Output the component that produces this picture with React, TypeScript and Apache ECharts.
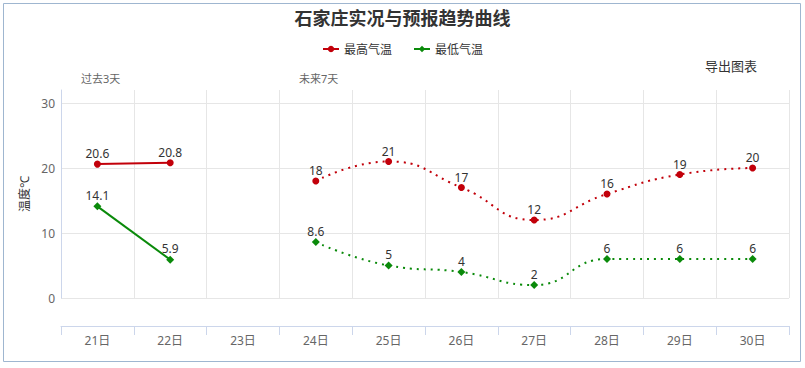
import React, { useEffect, useRef } from "react";
import * as echarts from "echarts";

const categories = ["21日", "22日", "23日", "24日", "25日", "26日", "27日", "28日", "29日", "30日"];
const maxObserved = [20.6, 20.8, null, null, null, null, null, null, null, null];
const maxForecast = [null, null, null, 18, 21, 17, 12, 16, 19, 20];
const minObserved = [14.1, 5.9, null, null, null, null, null, null, null, null];
const minForecast = [null, null, null, 8.6, 5, 4, 2, 6, 6, 6];
const yTicks = [0, 10, 20, 30];

const RED = "#c2000a";
const GREEN = "#0a8a0a";
const FONT = "'Noto Sans', 'Noto Sans CJK SC', sans-serif";

export default function App() {
  const ref = useRef<HTMLDivElement>(null);
  useEffect(() => {
    if (!ref.current) return;
    const chart = echarts.init(ref.current, undefined, { renderer: "svg" });
    const label = (d: number) => ({
      show: true,
      position: "top" as const,
      distance: d,
      color: "#333",
      fontSize: 12,
      fontFamily: FONT,
    });
    chart.setOption({
      animation: false,
      backgroundColor: "#fff",
      textStyle: { fontFamily: FONT },
      title: {
        text: "石家庄实况与预报趋势曲线",
        left: "center",
        top: 4,
        textStyle: { fontSize: 18, fontWeight: "bold", color: "#333", fontFamily: FONT },
      },
      legend: {
        data: ["最高气温", "最低气温"],
        top: 38,
        left: "center",
        itemWidth: 16,
        itemHeight: 8,
        itemGap: 21,
        textStyle: { fontSize: 12, color: "#333" },
      },
      graphic: [
        {
          type: "rect",
          shape: { x: 3.5, y: 3.5, width: 797, height: 358 },
          style: { fill: "none", stroke: "#9fb6d0", lineWidth: 1 },
          silent: true,
        },
        { type: "text", left: 705, top: 59, style: { text: "导出图表", fontSize: 13, fill: "#333", fontFamily: FONT } },
        { type: "text", left: 81, top: 73, style: { text: "过去3天", fontSize: 11, fill: "#666", fontFamily: FONT } },
        { type: "text", left: 299, top: 73, style: { text: "未来7天", fontSize: 11, fill: "#666", fontFamily: FONT } },
      ],
      grid: { left: 61, right: 16, top: 90, bottom: 70, containLabel: false },
      xAxis: {
        type: "category",
        data: categories,
        boundaryGap: true,
        offset: 28,
        axisLine: { show: true, onZero: false, lineStyle: { color: "#ccd6eb", width: 1 } },
        axisTick: { show: true, length: 9, lineStyle: { color: "#ccd6eb" } },
        axisLabel: { color: "#666", fontSize: 12, margin: 8 },
        splitLine: { show: true, lineStyle: { color: "#e6e6e6", width: 1 } },
      },
      yAxis: {
        type: "value",
        min: 0,
        max: 32,
        interval: 10,
        name: "温度℃",
        nameLocation: "middle",
        nameGap: 30,
        nameRotate: 90,
        nameTextStyle: { color: "#333", fontSize: 12 },
        axisLine: { show: true, lineStyle: { color: "#ccd6eb", width: 1 } },
        axisTick: { show: false },
        axisLabel: {
          color: "#666",
          fontSize: 12,
          margin: 6,
          formatter: (v: number) => (yTicks.includes(v) ? String(v) : ""),
        },
        splitLine: {
          show: true,
          lineStyle: { color: ["#e6e6e6", "#e6e6e6", "#e6e6e6", "#e6e6e6", "rgba(0,0,0,0)"], width: 1 },
        },
      },
      series: [
        {
          name: "最高气温",
          type: "line",
          data: maxObserved,
          symbol: "circle",
          symbolSize: 7,
          itemStyle: { color: RED },
          lineStyle: { color: RED, width: 2 },
          label: label(1),
        },
        {
          name: "最低气温",
          type: "line",
          data: minObserved,
          symbol: "diamond",
          symbolSize: 8,
          itemStyle: { color: GREEN },
          lineStyle: { color: GREEN, width: 2 },
          label: label(1),
        },
        {
          name: "最高气温",
          type: "line",
          data: maxForecast,
          smooth: 0.5,
          symbol: "circle",
          symbolSize: 7,
          itemStyle: { color: RED },
          lineStyle: { color: RED, width: 2, type: [2, 5] },
          label: label(1),
        },
        {
          name: "最低气温",
          type: "line",
          data: minForecast,
          smooth: 0.5,
          symbol: "diamond",
          symbolSize: 8,
          itemStyle: { color: GREEN },
          lineStyle: { color: GREEN, width: 2, type: [2, 5] },
          label: label(1),
        },
      ],
    });
    return () => chart.dispose();
  }, []);
  return (
    <div style={{ position: "fixed", left: 0, top: 0, width: 805, height: 368 }}>
      <div ref={ref} style={{ width: 805, height: 368 }} />
    </div>
  );
}
